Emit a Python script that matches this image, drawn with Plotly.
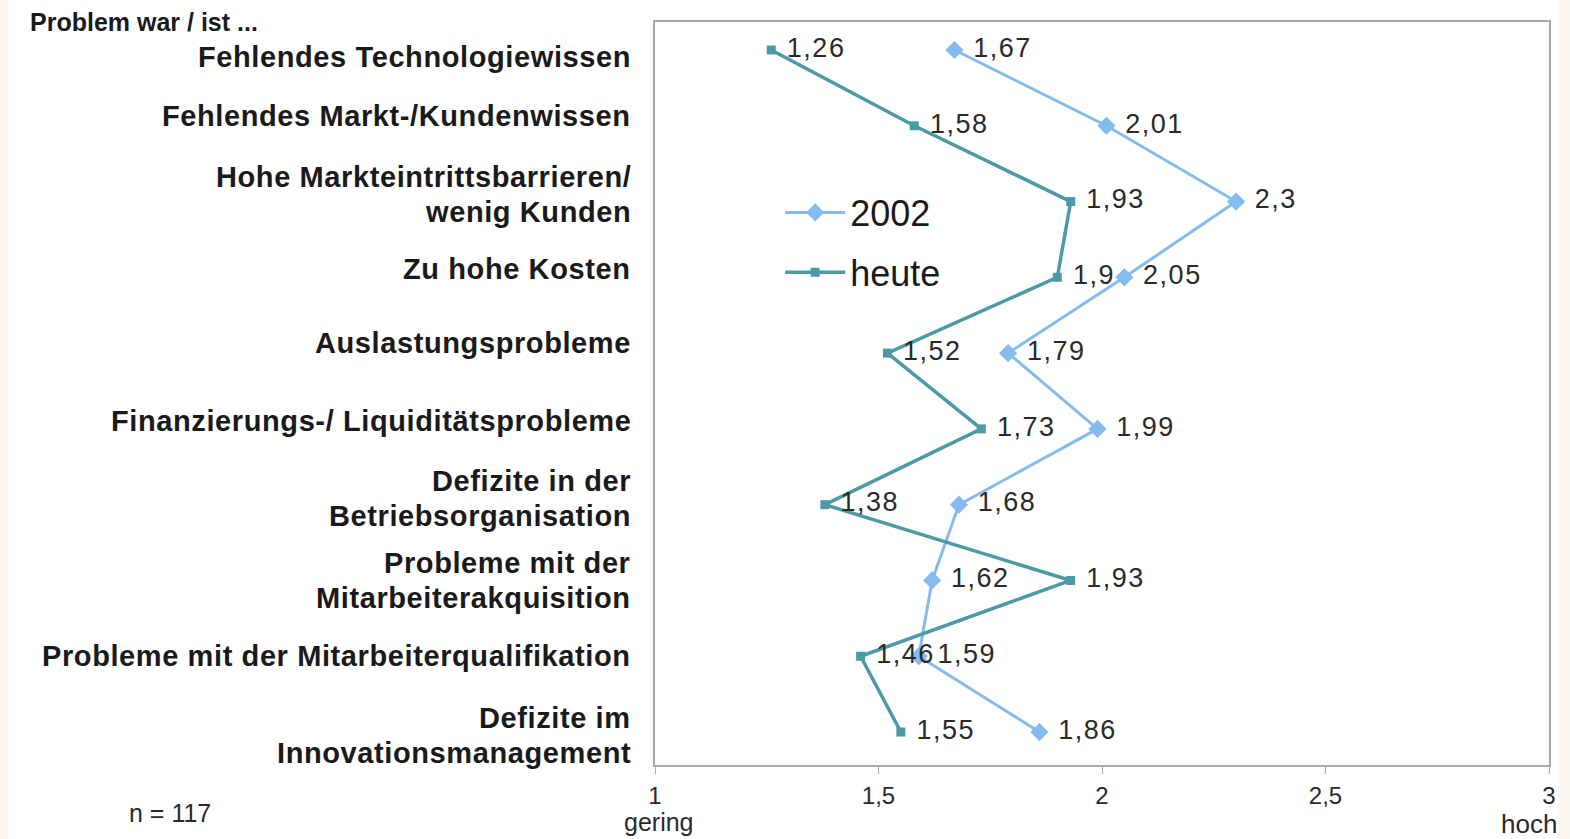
import plotly.graph_objects as go

categories = [
    "Fehlendes Technologiewissen",
    "Fehlendes Markt-/Kundenwissen",
    "Hohe Markteintrittsbarrieren/<br>wenig Kunden",
    "Zu hohe Kosten",
    "Auslastungsprobleme",
    "Finanzierungs-/ Liquiditätsprobleme",
    "Defizite in der<br>Betriebsorganisation",
    "Probleme mit der<br>Mitarbeiterakquisition",
    "Probleme mit der Mitarbeiterqualifikation",
    "Defizite im<br>Innovationsmanagement",
]
values_2002 = [1.67, 2.01, 2.3, 2.05, 1.79, 1.99, 1.68, 1.62, 1.59, 1.86]
values_heute = [1.26, 1.58, 1.93, 1.9, 1.52, 1.73, 1.38, 1.93, 1.46, 1.55]
tick_vals = [1, 1.5, 2, 2.5, 3]
tick_text = ["1", "1,5", "2", "2,5", "3"]

# small vertical nudges (px) of the category labels relative to their row
label_nudge = [-7, 10, 7, 8, 10, 8, 6, 0, 0, -3]

FONT = "Liberation Sans, Arial, sans-serif"

def fmt(v):
    s = f"{v:.2f}".rstrip("0").rstrip(".")
    return ("<span style='letter-spacing:1.5px'> " + s.replace(".", ",") + "</span>")

ypos = list(range(len(categories)))

fig = go.Figure()
fig.add_trace(go.Scatter(
    x=values_2002, y=ypos, name="2002", mode="lines+markers+text",
    line=dict(color="#85bcef", width=3),
    marker=dict(symbol="diamond", size=14, color="#85bcef"),
    text=[fmt(v) for v in values_2002], textposition="middle right",
    textfont=dict(family=FONT, size=27, color="#2a2a2a"),
    legendgroup="a", cliponaxis=False,
))
fig.add_trace(go.Scatter(
    x=values_heute, y=ypos, name="heute", mode="lines+markers+text",
    line=dict(color="#4b9aa5", width=3.5),
    marker=dict(symbol="square", size=9, color="#4b9aa5"),
    text=[fmt(v) for v in values_heute], textposition="middle right",
    textfont=dict(family=FONT, size=27, color="#2a2a2a"),
    legendgroup="b", cliponaxis=False,
))

annotations = []
LINE_H = 35
for i, c in enumerate(categories):
    lines = c.split("<br>")
    n = len(lines)
    for j, ln in enumerate(lines):
        shift = label_nudge[i] + (n - 1) / 2 * LINE_H - j * LINE_H
        annotations.append(dict(
            x=0, y=i, xref="paper", yref="y", xanchor="right", yanchor="middle",
            xshift=-22, yshift=shift,
            text=f"<b><span style='letter-spacing:0.6px'>{ln}</span></b>",
            showarrow=False, align="right",
            font=dict(family=FONT, size=29, color="#1a1a1a"),
        ))
annotations.append(dict(
    x=0, y=1, xref="paper", yref="paper", xanchor="left", yanchor="middle",
    xshift=-627, yshift=0, text="<b>Problem war / ist ...</b>", showarrow=False,
    font=dict(family=FONT, size=25, color="#1a1a1a"),
))
annotations.append(dict(
    x=0, y=0, xref="paper", yref="paper", xanchor="left", yanchor="middle",
    xshift=-528, yshift=-48, text="n = 117", showarrow=False,
    font=dict(family=FONT, size=25, color="#2a2a2a"),
))
annotations.append(dict(
    x=0, y=0, xref="paper", yref="paper", xanchor="center", yanchor="middle",
    xshift=4, yshift=-57, text="gering", showarrow=False,
    font=dict(family=FONT, size=25, color="#2a2a2a"),
))
annotations.append(dict(
    x=1, y=0, xref="paper", yref="paper", xanchor="right", yanchor="middle",
    xshift=10, yshift=-59, text="hoch", showarrow=False,
    font=dict(family=FONT, size=26, color="#2a2a2a"),
))

fig.update_layout(
    width=1570, height=839,
    margin=dict(l=655, r=21, t=22, b=74, autoexpand=False),
    paper_bgcolor="white", plot_bgcolor="white",
    font=dict(family=FONT, size=22, color="#2a2a2a"),
    showlegend=True,
    legend=dict(
        x=0.140, y=0.784, xanchor="left", yanchor="top",
        bgcolor="rgba(0,0,0,0)", font=dict(family=FONT, size=36, color="#1a1a1a"),
        itemwidth=60, tracegroupgap=10, traceorder="grouped",
    ),
    annotations=annotations,
    shapes=[
        dict(type="rect", xref="paper", yref="paper", x0=-0.733, x1=-0.724, y0=-0.2, y1=1.05,
             fillcolor="#fbf7f0", line=dict(width=0), layer="below"),
        dict(type="rect", xref="paper", yref="paper", x0=1.0105, x1=1.024, y0=-0.2, y1=1.05,
             fillcolor="#fbf7f0", line=dict(width=0), layer="below"),
    ],
)
fig.update_xaxes(
    range=[1, 3], tickvals=tick_vals, ticktext=tick_text, automargin=False,
    showgrid=False, zeroline=False, showline=True, mirror=True,
    linecolor="#a8a8a8", linewidth=2, ticks="outside", ticklen=7,
    tickcolor="#a8a8a8", ticklabelstandoff=1,
    tickfont=dict(family=FONT, size=24, color="#2a2a2a"),
)
fig.update_yaxes(
    range=[9.435, -0.3695], showticklabels=False, automargin=False,
    showgrid=False, zeroline=False, showline=True, mirror=True,
    linecolor="#a8a8a8", linewidth=2, ticks="",
)

fig.write_html("out.html", config={"displayModeBar": False},
               post_script="document.body.style.margin='0';")
